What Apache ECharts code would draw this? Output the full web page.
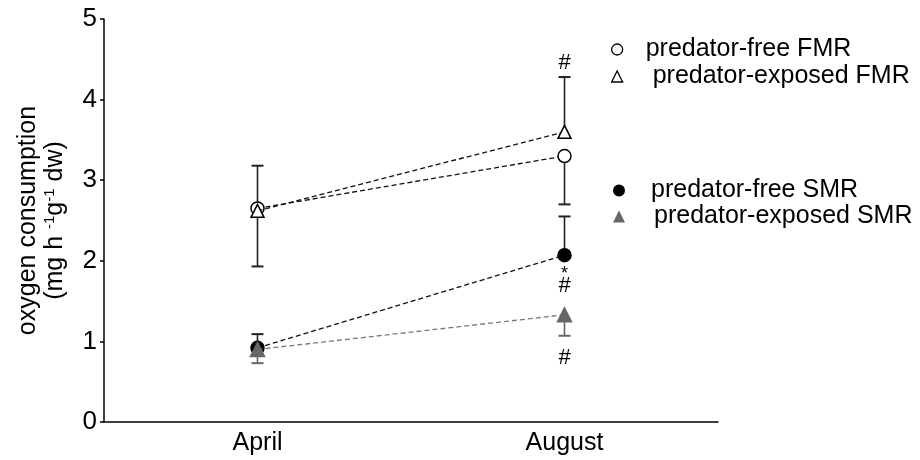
<!DOCTYPE html>
<html><head><meta charset="utf-8">
<script src="https://cdn.jsdelivr.net/npm/echarts@6/dist/echarts.min.js"></script>
<style>html,body{margin:0;padding:0;background:#fff}#c{width:920px;height:460px}</style>
</head><body><div id="c"></div>
<script>
const months = ['April', 'August'];
const fmrFree = [2.65, 3.30];
const fmrExposed = [2.62, 3.60];
const smrFree = [0.92, 2.07];
const smrExposed = [0.90, 1.33];
// one-sided SD (direction per series: free FMR below, exposed FMR above, free SMR above, exposed SMR below)
const fmrFreeSD = [0.72, 0.60];
const fmrExposedSD = [0.56, 0.68];
const smrFreeSD = [0.17, 0.48];
const smrExposedSD = [0.17, 0.26];
const yTicks = [0, 1, 2, 3, 4, 5];
const annoText = ['#', '*', '#', '#'];

const FONT = 'Liberation Sans, Arial, sans-serif';
const FS = 25;
const chart = echarts.init(document.getElementById('c'));

function errSeries(vals, sds, dir, color, z) {
  return {
    type: 'custom', z: z, silent: true,
    data: months.map((m, i) => [i, vals[i], vals[i] + dir * sds[i]]),
    renderItem: function (params, api) {
      const p0 = api.coord([api.value(0), api.value(1)]);
      const p1 = api.coord([api.value(0), api.value(2)]);
      const hw = 6;
      return {
        type: 'group', children: [
          { type: 'line', shape: { x1: p0[0], y1: p0[1], x2: p1[0], y2: p1[1] }, style: { stroke: color, lineWidth: 1.6 } },
          { type: 'line', shape: { x1: p1[0] - hw, y1: p1[1], x2: p1[0] + hw, y2: p1[1] }, style: { stroke: color, lineWidth: 2 } }
        ]
      };
    }
  };
}

const annoData = [
  [1, fmrExposed[1] + fmrExposedSD[1], annoText[0], -14, 22],
  [1, smrFree[1], annoText[1], 19, 18],
  [1, smrFree[1], annoText[2], 31, 22],
  [1, smrExposed[1] - smrExposedSD[1], annoText[3], 22, 22]
];

const lineBase = (name, vals, symbol, size, fill, stroke, lineColor, z) => ({
  name: name, type: 'line', data: vals, symbol: symbol, symbolSize: size, z: z,
  showAllSymbol: true,
  lineStyle: { color: lineColor, width: 1.3, type: [5, 3] },
  itemStyle: { color: fill, borderColor: stroke, borderWidth: 1.5, opacity: 1 },
  emphasis: { disabled: true }
});

const legendText = (pad) => ({ color: '#000', fontSize: FS, fontFamily: FONT, padding: [0, 0, 0, pad] });

const option = {
  animation: false,
  grid: { left: 104, right: 202, top: 19, bottom: 38 },
  xAxis: {
    type: 'category', data: months, boundaryGap: true,
    axisLine: { lineStyle: { color: '#000', width: 1.5 } },
    axisTick: { alignWithLabel: true, length: 7, lineStyle: { color: '#000', width: 1.5 } },
    axisLabel: { color: '#000', fontSize: FS, fontFamily: FONT, margin: 9 }
  },
  yAxis: {
    type: 'value', min: 0, max: 5, interval: 1,
    splitLine: { show: false },
    axisLine: { show: true, lineStyle: { color: '#000', width: 1.5 } },
    axisTick: { show: true, length: 4, lineStyle: { color: '#000', width: 1.5 } },
    axisLabel: { color: '#000', fontSize: 26, fontFamily: FONT, margin: 7,
      formatter: v => yTicks.indexOf(v) >= 0 ? String(v) : '' },
    name: '{a|oxygen consumption}\n{a|(mg h }{s|-1}{a|g}{s|-1}{a| dw)}',
    nameLocation: 'middle', nameRotate: 90, nameGap: 35,
    nameTextStyle: {
      color: '#000', fontFamily: FONT, lineHeight: 27,
      rich: {
        a: { fontSize: FS, fontFamily: FONT, color: '#000', lineHeight: 27 },
        s: { fontSize: 15, fontFamily: FONT, color: '#000', lineHeight: 27, verticalAlign: 'top', padding: [0, 0, 0, 0] }
      }
    }
  },
  legend: [
    {
      orient: 'vertical', left: 606, top: 32, itemGap: 2, itemWidth: 11, itemHeight: 11,
      textStyle: legendText(18),
      data: [
        { name: 'predator-free FMR', icon: 'circle', textStyle: legendText(18), itemStyle: { color: '#fff', borderColor: '#000', borderWidth: 1.3 } },
        { name: 'predator-exposed FMR', icon: 'triangle', textStyle: legendText(25), itemStyle: { color: '#fff', borderColor: '#000', borderWidth: 1.3 } }
      ]
    },
    {
      orient: 'vertical', left: 608, top: 173, itemGap: 1, itemWidth: 12, itemHeight: 12,
      textStyle: legendText(21),
      data: [
        { name: 'predator-free SMR', icon: 'circle', textStyle: legendText(21), itemStyle: { color: '#000', borderColor: '#000', borderWidth: 0 } },
        { name: 'predator-exposed SMR', icon: 'triangle', textStyle: legendText(24), itemStyle: { color: '#666', borderColor: '#666', borderWidth: 0 } }
      ]
    }
  ],
  series: [
    errSeries(fmrFree, fmrFreeSD, -1, '#222', 2),
    errSeries(fmrExposed, fmrExposedSD, 1, '#222', 2),
    errSeries(smrFree, smrFreeSD, 1, '#222', 2),
    errSeries(smrExposed, smrExposedSD, -1, '#666', 2),
    lineBase('predator-free SMR', smrFree, 'circle', 13, '#000', '#000', '#111', 4),
    lineBase('predator-exposed SMR', smrExposed, 'triangle', 14, '#666', '#666', '#777', 5),
    lineBase('predator-free FMR', fmrFree, 'circle', 13, '#fff', '#000', '#111', 6),
    lineBase('predator-exposed FMR', fmrExposed, 'triangle', 13, '#fff', '#000', '#111', 7),
    {
      type: 'custom', z: 8, silent: true,
      data: annoData,
      renderItem: function (params, api) {
        const p = api.coord([api.value(0), api.value(1)]);
        const d = annoData[params.dataIndex];
        return { type: 'text', x: p[0], y: p[1] + d[3],
          style: { text: d[2], fill: '#000', font: d[4] + 'px ' + FONT, align: 'center', verticalAlign: 'middle' } };
      }
    }
  ]
};
chart.setOption(option);
</script></body></html>
